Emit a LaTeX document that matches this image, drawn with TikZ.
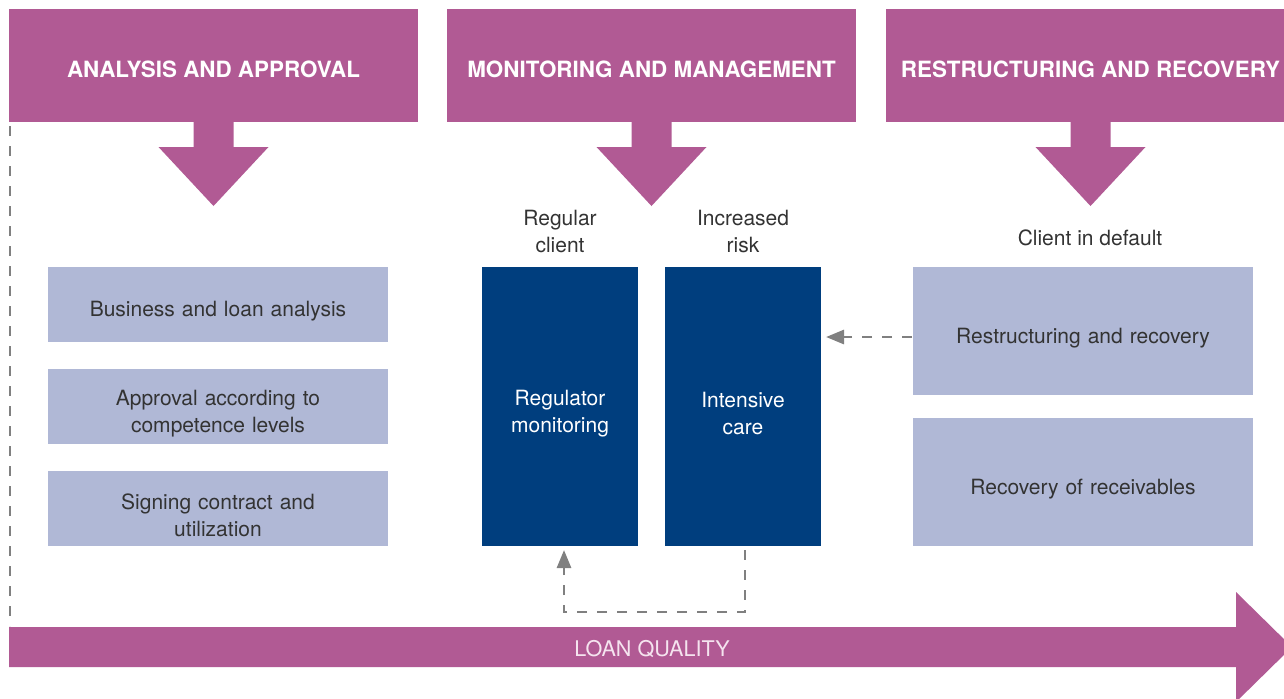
\documentclass[tikz,border=0pt]{standalone}
\usepackage{fontspec}
\setsansfont{TeX Gyre Heros}
\usepackage{tikz}
\usetikzlibrary{arrows.meta,positioning,calc}
\definecolor{plum}{HTML}{B15A94}
\definecolor{lav}{HTML}{B0B8D6}
\definecolor{careblue}{HTML}{003E7E}
\definecolor{txtgray}{HTML}{333333}
\definecolor{dashgray}{HTML}{808080}
\definecolor{loantxt}{HTML}{F5E4EF}

\begin{document}
\begin{tikzpicture}[
    x=0.5pt, y=-0.5pt,
    font=\sffamily\fontsize{10.5}{13.5}\selectfont,
    hdr/.style={fill=plum, minimum width=204.5pt, minimum height=56.5pt, inner sep=0pt, outer sep=0pt,
      text=white, font=\sffamily\bfseries\fontsize{11.2}{13}\selectfont, text height=11.6pt, text depth=0pt},
    lbox/.style={fill=lav, text width=170pt, minimum height=37.5pt, inner sep=0pt, outer sep=0pt,
      text=txtgray, align=center, execute at begin node={\rule{0pt}{14.5pt}}},
    rbox/.style={lbox, minimum height=64pt},
    bbox/.style={fill=careblue, text width=78pt, minimum height=139.5pt, inner sep=0pt, outer sep=0pt,
      text=white, align=center, execute at begin node={\rule{0pt}{14.5pt}}},
    lbl/.style={text=txtgray, align=center, inner sep=0pt},
    vline/.style={dashgray, line width=1.2pt, dash pattern=on 5pt off 5pt},
    dasharrow/.style={dashgray, line width=1.4pt, dash pattern=on 5pt off 5pt,
      -{Triangle[length=9pt,width=7pt]}}
  ]
    \useasboundingbox (0,0) rectangle (1284,698);
    \clip (0,0) rectangle (1284,698);

    % phase headers with their down arrows
    \node[hdr] (hA) at (213.5,65.5) {ANALYSIS AND APPROVAL};
    \node[hdr] (hM) at (651.5,65.5) {MONITORING AND MANAGEMENT};
    \node[hdr] (hR) at (1090.5,65.5) {RESTRUCTURING AND RECOVERY};
    \foreach \h in {hA,hM,hR}
      \fill[plum] (\h.south) +(-20,-1) -- +(-20,25) -- +(-55,25) -- +(0,84)
        -- +(55,25) -- +(20,25) -- +(20,-1) -- cycle;

    \node[lbox] (la) at (218,304.5) {Business and loan analysis};
    \node[lbox, below=13.5pt of la] (lb) {Approval according to\\competence levels};
    \node[lbox, below=13.5pt of lb] (lc) {Signing contract and\\utilization};

    \node[bbox] (reg) at (560,406.5) {Regulator\\monitoring};
    \node[bbox, right=13.5pt of reg] (int) {Intensive\\care};
    \node[lbl] (regL) at (560,231) {Regular\\client};
    \node[lbl] (intL) at (743,231) {Increased\\risk};

    \node[rbox] (rA) at (1083,331) {Restructuring and recovery};
    \node[rbox, below=11.5pt of rA] (rB) {Recovery of receivables};
    \node[lbl] (dflt) at (1090,238) {Client in default};

    % loan quality arrow
    \fill[plum] (9,627) -- (1236,627) -- (1236,592) -- (1292,647) -- (1236,702)
      -- (1236,667) -- (9,667) -- cycle;
    \node[text=loantxt, font=\sffamily\fontsize{10.8}{13}\selectfont] (lq) at (652,649) {LOAN QUALITY};

    \coordinate (qTop) at (10,626);
    \draw[vline] ($(hA.south west)+(1,4)$) -- (qTop);
    \draw[dasharrow] ($(rA.west)+(-1,6)$) -- ($(rA.west -| int.east)+(5,6)$);
    \coordinate (loopR) at ($(int.south)+(2,66)$);
    \draw[dasharrow] ($(int.south)+(2,4)$) -- (loopR) -| ($(reg.south)+(4,4)$);
  \end{tikzpicture}
\end{document}
